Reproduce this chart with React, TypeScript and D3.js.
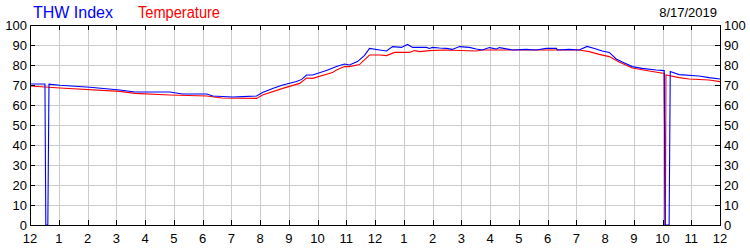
import React from "react";
import * as d3 from "d3";

const hourTickLabels = ["12","1","2","3","4","5","6","7","8","9","10","11","12","1","2","3","4","5","6","7","8","9","10","11","12"];
const yTicks = [0, 10, 20, 30, 40, 50, 60, 70, 80, 90, 100];
const seriesNames = ["THW Index", "Temperature"];
const dateLabel = "8/17/2019";

// hours since midnight
const thwHours = [0.00,0.52,0.55,0.62,0.66,1.04,2.08,3.13,3.65,4.86,5.31,6.15,6.36,7.05,7.40,7.88,8.09,8.44,8.79,9.27,9.45,9.62,9.83,10.31,10.66,10.94,11.11,11.39,11.63,11.81,12.16,12.40,12.61,12.92,13.13,13.31,13.79,13.89,14.00,14.24,14.48,14.69,14.94,15.28,15.52,15.73,15.98,16.22,16.33,16.78,17.26,17.61,17.96,18.31,18.34,18.76,19.10,19.38,19.69,19.90,20.15,20.39,20.60,20.95,21.29,21.78,22.06,22.09,22.23,22.27,22.58,23.27,23.62,24.00];
const thwValues = [70.5,70.5,0,0,70.4,69.9,68.9,67.5,66.5,66.5,65.5,65.5,64.5,64.0,64.2,64.5,66.2,68.3,70.0,71.7,72.8,75.0,75.0,77.2,79.2,80.5,80.0,81.7,84.7,88.3,87.5,87.0,89.2,88.8,90.3,88.8,88.8,88.3,88.8,88.5,88.3,87.8,89.2,88.8,88.0,87.5,88.7,88.0,88.7,87.5,87.8,87.5,88.3,88.3,87.5,87.8,87.5,89.3,88.0,87.0,86.3,83.0,81.5,79.2,78.3,77.5,77.2,0,0,76.7,75.2,74.5,73.7,73.0];

const tempHours = [0.00,1.04,3.13,3.65,4.86,6.15,6.67,7.88,8.09,8.79,9.38,9.62,9.83,10.52,10.66,10.94,11.11,11.46,11.81,12.16,12.40,12.68,13.20,13.37,13.55,13.89,14.41,15.52,15.73,19.10,19.45,19.80,20.15,20.49,20.95,21.54,22.06,22.09,22.10,22.12,22.58,22.92,23.62,24.00];
const tempValues = [69.5,68.5,66.8,65.8,65.0,64.5,63.5,63.3,65.0,68.3,70.8,73.5,73.3,76.2,77.5,79.2,79.2,80.2,85.0,85.0,84.7,86.3,86.3,87.2,86.7,87.2,87.5,87.0,87.5,87.5,86.7,85.3,84.2,81.5,78.5,77.0,75.8,0,0,75.0,73.7,73.0,72.5,71.7];

const W = 750, H = 250;
const X0 = 30, X1 = 720, Y0 = 25, Y1 = 225;
const FONT = "'Liberation Sans', Arial, sans-serif";

export default function App() {
  const x = d3.scaleLinear().domain([0, 24]).range([X0, X1]);
  const y = d3.scaleLinear().domain([0, 100]).range([Y1, Y0]);
  const crisp = (v: number) => Math.round(v) + 0.5;

  const thw = thwHours.map((h, i) => [h, thwValues[i]] as [number, number]);
  const temp = tempHours.map((h, i) => [h, tempValues[i]] as [number, number]);
  const line = d3.line<[number, number]>().x(d => x(d[0])).y(d => y(d[1]));

  const hours = d3.range(0, 25);

  return (
    <svg width={W} height={H} style={{ position: "absolute", left: 0, top: 0, background: "#fff" }}
      fontFamily={FONT}>
      <rect x={0} y={0} width={W} height={H} fill="#fff" />
      {/* grid */}
      {yTicks.slice(1, -1).map(t => (
        <line key={"gy" + t} x1={X0} x2={X1} y1={crisp(y(t))} y2={crisp(y(t))} stroke="#cccccc" />
      ))}
      {hours.slice(1, -1).map(h => (
        <line key={"gx" + h} x1={crisp(x(h))} x2={crisp(x(h))} y1={Y0} y2={Y1} stroke="#cccccc" />
      ))}
      {/* series */}
      <path d={line(temp) || ""} fill="none" stroke="#ff0000" strokeWidth={1.1} />
      <path d={line(thw) || ""} fill="none" stroke="#0000ff" strokeWidth={1.1} />
      {/* frame */}
      <rect x={X0 + 0.5} y={Y0 + 0.5} width={X1 - X0} height={Y1 - Y0} fill="none" stroke="#000" />
      {/* ticks */}
      {hours.slice(1, -1).map(h => (
        <g key={"tx" + h}>
          <line x1={crisp(x(h))} x2={crisp(x(h))} y1={Y1} y2={Y1 - 5} stroke="#000" />
          <line x1={crisp(x(h))} x2={crisp(x(h))} y1={Y0} y2={Y0 + 5} stroke="#000" />
        </g>
      ))}
      {yTicks.slice(1, -1).map(t => (
        <g key={"ty" + t}>
          <line x1={X0} x2={X0 + 5} y1={crisp(y(t))} y2={crisp(y(t))} stroke="#000" />
          <line x1={X1} x2={X1 - 5} y1={crisp(y(t))} y2={crisp(y(t))} stroke="#000" />
        </g>
      ))}
      {/* y labels */}
      {yTicks.map(t => (
        <g key={"ly" + t} fontSize={13} fill="#000">
          <text x={27} y={y(t) + 4.5} textAnchor="end">{t}</text>
          <text x={724} y={y(t) + 4.5} textAnchor="start">{t}</text>
        </g>
      ))}
      {/* x labels */}
      {hours.map(h => (
        <text key={"lx" + h} x={x(h)} y={243} textAnchor="middle" fontSize={13} fill="#000">
          {hourTickLabels[h]}
        </text>
      ))}
      {/* legend */}
      <text x={33} y={18} fontSize={16} fill="#0000ff" textLength={80} lengthAdjust="spacingAndGlyphs">{seriesNames[0]}</text>
      <text x={138} y={18} fontSize={16} fill="#ff0000" textLength={82} lengthAdjust="spacingAndGlyphs">{seriesNames[1]}</text>
      <text x={717} y={17} fontSize={13} fill="#000" textAnchor="end">{dateLabel}</text>
    </svg>
  );
}
